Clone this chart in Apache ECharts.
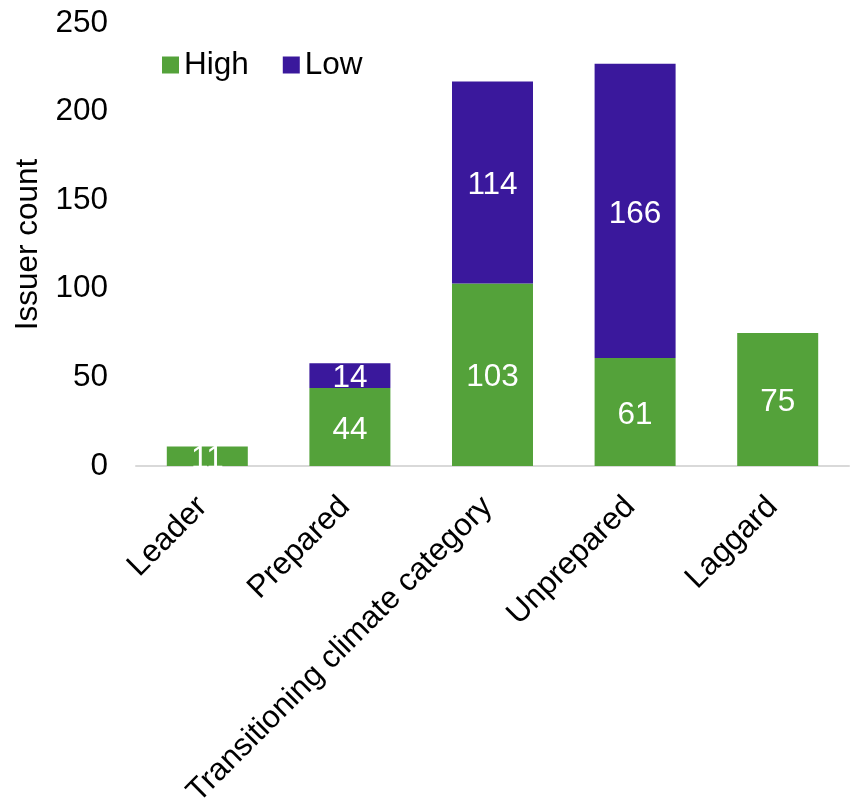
<!DOCTYPE html>
<html>
<head>
<meta charset="utf-8">
<script src="https://cdn.jsdelivr.net/npm/echarts@6/dist/echarts.min.js"></script>
<style>
  html, body { margin: 0; padding: 0; background: #fff; }
  #chart { width: 852px; height: 802px; }
</style>
</head>
<body>
<div id="chart"></div>
<script>
// Issuer counts per climate category, split by High / Low
const categories = ['Leader', 'Prepared', 'Transitioning climate category', 'Unprepared', 'Laggard'];
const highValues = [11, 44, 103, 61, 75];
const lowValues = [null, 14, 114, 166, null];
const yTicks = { min: 0, max: 250, interval: 50 };

const FONT = '"Liberation Sans", Arial, sans-serif';
const FONT_SIZE = 31.5;
const GREEN = '#54a23a';
const PURPLE = '#3a189c';

const chart = echarts.init(document.getElementById('chart'), null, { renderer: 'canvas' });

const barLabel = {
  show: true,
  position: 'inside',
  offset: [0, 3],
  color: '#ffffff',
  fontSize: FONT_SIZE,
  fontFamily: FONT
};

chart.setOption({
  animation: false,
  backgroundColor: '#ffffff',
  textStyle: { fontFamily: FONT },
  legend: {
    left: 162,
    top: 49,
    padding: 0,
    itemWidth: 17,
    itemHeight: 17,
    itemGap: 34,
    icon: 'rect',
    textStyle: { fontSize: FONT_SIZE, color: '#000', fontFamily: FONT },
    data: ['High', 'Low']
  },
  grid: {
    left: 136, right: 3, top: 23, bottom: 336,
    containLabel: false,
    outerBoundsMode: 'none'
  },
  xAxis: {
    type: 'category',
    data: categories,
    axisLine: { show: true, lineStyle: { color: '#d9d9d9', width: 2 } },
    axisTick: { show: false },
    axisLabel: {
      rotate: 45,
      interval: 0,
      margin: 31,
      padding: [0, 7, 0, 0],
      fontSize: FONT_SIZE,
      color: '#000',
      fontFamily: FONT
    }
  },
  yAxis: {
    type: 'value',
    min: yTicks.min,
    max: yTicks.max,
    interval: yTicks.interval,
    name: 'Issuer count',
    nameLocation: 'middle',
    nameGap: 90,
    nameRotate: 90,
    nameTextStyle: { fontSize: FONT_SIZE, color: '#000', fontFamily: FONT },
    axisLine: { show: false },
    axisTick: { show: false },
    splitLine: { show: false },
    axisLabel: { margin: 28, fontSize: FONT_SIZE, color: '#000', fontFamily: FONT }
  },
  series: [
    {
      name: 'High',
      type: 'bar',
      stack: 'total',
      barWidth: 81,
      itemStyle: { color: GREEN },
      label: barLabel,
      data: highValues
    },
    {
      name: 'Low',
      type: 'bar',
      stack: 'total',
      barWidth: 81,
      itemStyle: { color: PURPLE },
      label: barLabel,
      data: lowValues
    }
  ]
});
</script>
</body>
</html>
